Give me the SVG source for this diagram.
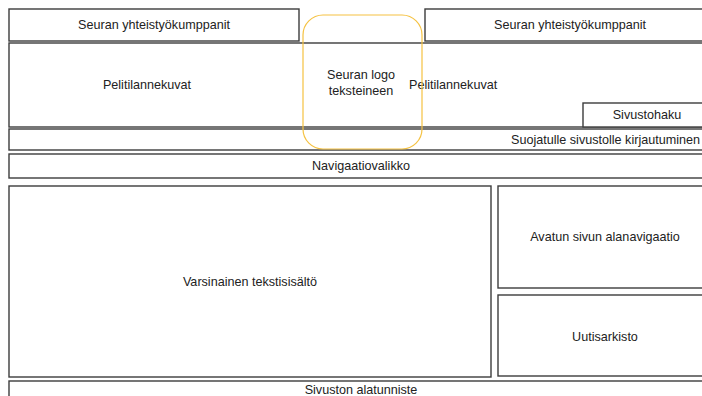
<svg xmlns="http://www.w3.org/2000/svg" width="702" height="396" viewBox="0 0 702 396">
<style>
.b{fill:#fff;stroke:#3c3c3c;stroke-width:1.4}
.t{font-family:"Liberation Sans",Arial,sans-serif;font-size:12.6px;fill:#222;text-anchor:middle}
.s{text-anchor:start}
.e{text-anchor:end}
</style>
<rect width="702" height="396" fill="#fff"/>
<g id="partners-left"><rect class="b" x="9" y="9" width="290" height="32"/><text class="t" x="154" y="29">Seuran yhteistyökumppanit</text></g>
<g id="partners-right"><rect class="b" x="425" y="9" width="290" height="32"/><text class="t" x="570" y="29">Seuran yhteistyökumppanit</text></g>
<g id="pelitilanne"><rect class="b" x="9" y="43" width="710" height="84"/><text class="t" x="147" y="89">Pelitilannekuvat</text><text class="t s" x="409" y="89">Pelitilannekuvat</text></g>
<g id="sivustohaku"><rect class="b" x="583" y="103" width="130" height="24"/><text class="t" x="647" y="119">Sivustohaku</text></g>
<g id="kirjautuminen"><rect class="b" x="9" y="129" width="710" height="21"/><text class="t e" x="700" y="144">Suojatulle sivustolle kirjautuminen</text></g>
<g id="navigaatio"><rect class="b" x="9" y="154" width="710" height="24"/><text class="t" x="361" y="170">Navigaatiovalikko</text></g>
<g id="sisalto"><rect class="b" x="9" y="186" width="482" height="191"/><text class="t" x="250" y="286">Varsinainen tekstisisältö</text></g>
<g id="alanavigaatio"><rect class="b" x="498" y="186" width="215" height="102"/><text class="t" x="605" y="241">Avatun sivun alanavigaatio</text></g>
<g id="uutisarkisto"><rect class="b" x="498" y="295" width="215" height="81"/><text class="t" x="605" y="341">Uutisarkisto</text></g>
<g id="alatunniste"><rect class="b" x="9" y="381" width="710" height="30"/><text class="t" x="361" y="394">Sivuston alatunniste</text></g>
<g id="logo"><rect x="303" y="15" width="119" height="134" rx="20" fill="none" stroke="#f5c242" stroke-width="1.2"/><text class="t" x="361" y="79">Seuran logo</text><text class="t" x="361" y="95">teksteineen</text></g>
<g id="connectors"/>
</svg>
